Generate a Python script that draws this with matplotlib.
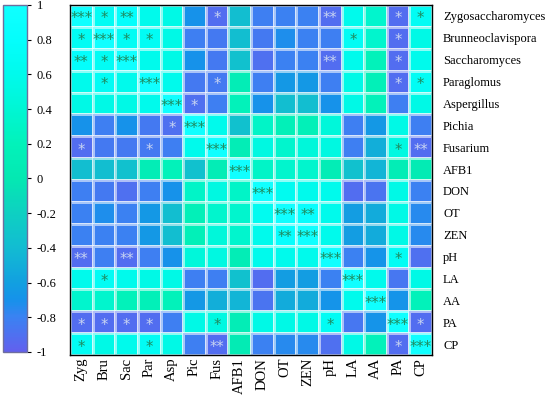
import matplotlib
matplotlib.use("Agg")
import matplotlib.pyplot as plt
import numpy as np
from matplotlib.colors import LinearSegmentedColormap

col_labels = ["Zyg", "Bru", "Sac", "Par", "Asp", "Pic", "Fus", "AFB1", "DON",
              "OT", "ZEN", "pH", "LA", "AA", "PA", "CP"]
row_labels = ["Zygosaccharomyces", "Brunneoclavispora", "Saccharomyces", "Paraglomus",
              "Aspergillus", "Pichia", "Fusarium", "AFB1", "DON", "OT", "ZEN", "pH",
              "LA", "AA", "PA", "CP"]

corr = [
    [1.00, 0.70, 0.80, 0.60, 0.55, -0.70, -0.92, -0.38, -0.82, -0.80, -0.80, -0.92, 0.60, 0.35, -0.92, 0.70],
    [0.70, 1.00, 0.70, 0.70, 0.55, -0.82, -0.85, -0.38, -0.85, -0.72, -0.80, -0.82, 0.70, 0.35, -0.92, 0.55],
    [0.80, 0.70, 1.00, 0.60, 0.55, -0.70, -0.85, -0.35, -0.90, -0.80, -0.80, -0.92, 0.60, 0.20, -0.92, 0.60],
    [0.60, 0.70, 0.60, 1.00, 0.60, -0.85, -0.85, 0.10, -0.82, -0.65, -0.65, -0.82, 0.55, 0.15, -0.92, 0.70],
    [0.55, 0.55, 0.55, 0.60, 1.00, -0.90, -0.82, 0.20, -0.70, -0.38, -0.38, -0.70, 0.55, 0.20, -0.82, 0.55],
    [-0.70, -0.82, -0.70, -0.85, -0.90, 1.00, 0.60, -0.35, 0.30, 0.15, 0.15, 0.45, -0.82, -0.65, 0.55, -0.82],
    [-0.92, -0.85, -0.85, -0.85, -0.82, 0.60, 1.00, 0.10, 0.50, 0.35, 0.45, 0.50, -0.82, -0.50, 0.50, -0.92],
    [-0.38, -0.38, -0.35, 0.10, 0.20, -0.35, 0.10, 1.00, 0.30, 0.35, 0.35, 0.10, -0.35, -0.45, 0.10, 0.05],
    [-0.82, -0.85, -0.90, -0.82, -0.70, 0.30, 0.50, 0.30, 1.00, 0.65, 0.60, 0.60, -0.92, -0.88, 0.55, -0.80],
    [-0.80, -0.72, -0.80, -0.65, -0.38, 0.15, 0.35, 0.35, 0.65, 1.00, 0.85, 0.60, -0.62, -0.52, 0.55, -0.75],
    [-0.80, -0.80, -0.80, -0.65, -0.38, 0.15, 0.45, 0.35, 0.60, 0.85, 1.00, 0.60, -0.62, -0.52, 0.55, -0.75],
    [-0.92, -0.82, -0.92, -0.82, -0.70, 0.45, 0.50, 0.10, 0.60, 0.60, 0.60, 1.00, -0.80, -0.68, 0.70, -0.90],
    [0.60, 0.70, 0.60, 0.55, 0.55, -0.82, -0.82, -0.35, -0.92, -0.62, -0.62, -0.80, 1.00, 0.60, -0.86, 0.55],
    [0.35, 0.35, 0.20, 0.15, 0.20, -0.65, -0.50, -0.45, -0.88, -0.52, -0.52, -0.68, 0.60, 1.00, -0.68, 0.20],
    [-0.92, -0.92, -0.92, -0.92, -0.82, 0.55, 0.50, 0.10, 0.55, 0.55, 0.55, 0.70, -0.86, -0.68, 1.00, -0.92],
    [0.70, 0.55, 0.60, 0.70, 0.55, -0.82, -0.92, 0.05, -0.80, -0.75, -0.75, -0.90, 0.55, 0.20, -0.92, 1.00],
]

stars = [
    ["***", "*", "**", "", "", "", "*", "", "", "", "", "**", "", "", "*", "*"],
    ["*", "***", "*", "*", "", "", "", "", "", "", "", "", "*", "", "*", ""],
    ["**", "*", "***", "", "", "", "", "", "", "", "", "**", "", "", "*", ""],
    ["", "*", "", "***", "", "", "*", "", "", "", "", "", "", "", "*", "*"],
    ["", "", "", "", "***", "*", "", "", "", "", "", "", "", "", "", ""],
    ["", "", "", "", "*", "***", "", "", "", "", "", "", "", "", "", ""],
    ["*", "", "", "*", "", "", "***", "", "", "", "", "", "", "", "*", "**"],
    ["", "", "", "", "", "", "", "***", "", "", "", "", "", "", "", ""],
    ["", "", "", "", "", "", "", "", "***", "", "", "", "", "", "", ""],
    ["", "", "", "", "", "", "", "", "", "***", "**", "", "", "", "", ""],
    ["", "", "", "", "", "", "", "", "", "**", "***", "", "", "", "", ""],
    ["**", "", "**", "", "", "", "", "", "", "", "", "***", "", "", "*", ""],
    ["", "*", "", "", "", "", "", "", "", "", "", "", "***", "", "", ""],
    ["", "", "", "", "", "", "", "", "", "", "", "", "", "***", "", ""],
    ["*", "*", "*", "*", "", "", "*", "", "", "", "", "*", "", "", "***", "*"],
    ["*", "", "", "*", "", "", "**", "", "", "", "", "", "", "", "*", "***"],
]

cbar_ticks = [1, 0.8, 0.6, 0.4, 0.2, 0, -0.2, -0.4, -0.6, -0.8, -1]

cmap = LinearSegmentedColormap.from_list("corr", [
    (0.00, "#6260EE"),
    (0.10, "#3A82F2"),
    (0.15, "#1592EA"),
    (0.20, "#12A0E0"),
    (0.30, "#12BCD2"),
    (0.40, "#0ED0C2"),
    (0.50, "#04E8B2"),
    (0.60, "#02F2BA"),
    (0.70, "#00F6D4"),
    (0.80, "#00FAEC"),
    (0.90, "#04FEFC"),
    (1.00, "#10FFFF"),
])

plt.rcParams["font.family"] = ["Liberation Serif", "DejaVu Serif"]

fig = plt.figure(figsize=(5.5, 3.96), dpi=100)
ax = fig.add_axes([70/550, 1-355/396, 362/550, 350/396])
cax = fig.add_axes([3/550, 1-352/396, 24/550, 347/396])

data = np.array(corr)
n = data.shape[0]
mesh = ax.pcolormesh(np.arange(n+1), np.arange(n+1), data, cmap=cmap, vmin=-1, vmax=1,
                     edgecolors=(1, 1, 1, 0.55), linewidth=0.8)
ax.set_xlim(0, n)
ax.set_ylim(n, 0)
ax.set_xticks(np.arange(n) + 0.5)
ax.set_xticklabels(col_labels, rotation=90, fontsize=10.5)
ax.set_yticks(np.arange(n) + 0.5)
ax.set_yticklabels(row_labels, fontsize=9)
ax.yaxis.tick_right()
ax.tick_params(length=0, pad=8)
ax.tick_params(axis="x", pad=2)
for s in ax.spines.values():
    s.set_linewidth(1.0)
    s.set_color("black")

for i in range(n):
    for j in range(n):
        t = stars[i][j]
        if t:
            c = "#C8D4F2" if data[i, j] < -0.6 else "#1F8A5E"
            ax.text(j + 0.5, i + 0.64, t, ha="center", va="center", fontsize=10.5,
                    color=c, family="DejaVu Sans")

cb = fig.colorbar(mesh, cax=cax, ticks=cbar_ticks)
cb.outline.set_edgecolor("#6E6E9E")
cb.outline.set_linewidth(1.0)
cax.tick_params(labelsize=9, length=3, width=0.8, pad=4)
cax.set_yticklabels([("%g" % v) for v in cbar_ticks])

fig.savefig("out.png", dpi=100)
